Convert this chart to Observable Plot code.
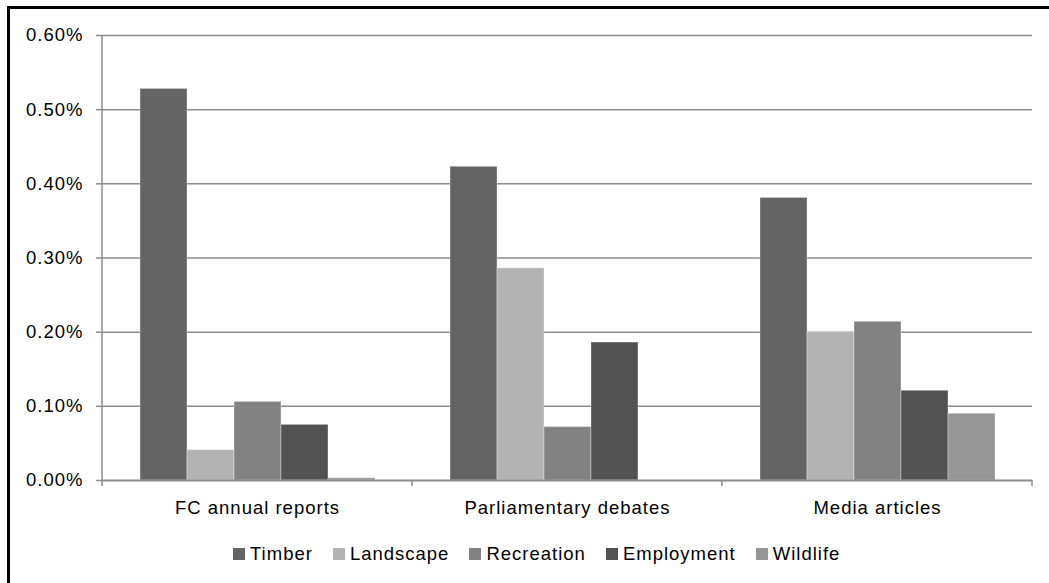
<!DOCTYPE html>
<html>
<head>
<meta charset="utf-8">
<script src="https://cdn.jsdelivr.net/npm/d3@7"></script>
<script src="https://cdn.jsdelivr.net/npm/@observablehq/plot@0.6"></script>
<style>
  html, body { margin: 0; padding: 0; background: #fff; overflow: hidden; }
  body { width: 1049px; height: 583px; position: relative; font-family: "Liberation Sans", Arial, sans-serif; }
  #frame { position: absolute; left: 7px; top: 6px; width: 2000px; height: 2000px; border: 3px solid #000; box-sizing: border-box; pointer-events: none; }
  #chart { position: absolute; left: 0; top: 0; }
  #legend { position: absolute; left: 233px; top: 544px; display: flex; align-items: center; font-size: 18.5px; letter-spacing: 1px; line-height: 19px; color: #000; }
  #legend .item { display: flex; align-items: center; margin-right: 20px; }
  #legend .sw { width: 12px; height: 12px; margin-right: 5px; }
</style>
</head>
<body>
<div id="chart"></div>
<div id="legend"></div>
<div id="frame"></div>
<script>
// Share of text (percent) mentioning each forest value, by source
const categories = ["FC annual reports", "Parliamentary debates", "Media articles"];
const series = ["Timber", "Landscape", "Recreation", "Employment", "Wildlife"];
const timber = [0.528, 0.423, 0.381];
const landscape = [0.041, 0.286, 0.200];
const recreation = [0.106, 0.072, 0.214];
const employment = [0.075, 0.186, 0.121];
const wildlife = [0.003, 0.000, 0.090];
const colors = ["#646464", "#b3b3b3", "#828282", "#525252", "#969696"];
const yTicks = [0, 0.1, 0.2, 0.3, 0.4, 0.5, 0.6];

const seriesValues = [timber, landscape, recreation, employment, wildlife];
const data = categories.flatMap((category, i) =>
  series.map((name, j) => ({category, series: name, value: seriesValues[j][i]}))
);

const gridColor = "#8c8c8c";

const chart = Plot.plot({
  width: 1049,
  height: 530,
  marginLeft: 101,
  marginRight: 17,
  marginTop: 35,
  marginBottom: 50,
  style: {fontFamily: "'Liberation Sans', Arial, sans-serif", fontSize: "18.5px", letterSpacing: "1px", color: "#000", background: "transparent"},
  fx: {domain: categories, padding: 0, label: null},
  x: {domain: series, paddingInner: 0, paddingOuter: 0.75, axis: null},
  y: {domain: [0, 0.6], label: null},
  color: {domain: series, range: colors},
  marks: [
    Plot.gridY(yTicks.slice(1), {stroke: gridColor, strokeOpacity: 1, strokeWidth: 1.5}),
    Plot.barY(data, {fx: "category", x: "series", y: "value", fill: "series", stroke: "#ffffff", strokeOpacity: 0.35, strokeWidth: 1}),
    Plot.ruleY([0], {stroke: gridColor, strokeWidth: 2}),
    Plot.axisY(yTicks, {tickSize: 6, tickPadding: 13, stroke: gridColor, strokeWidth: 1.5, tickFormat: d => d.toFixed(2) + "%", label: null, fill: "#000"}),
    Plot.axisFx({anchor: "bottom", tickSize: 0, tickPadding: 20, label: null, fill: "#000"})
  ]
});
document.getElementById("chart").appendChild(chart);

// Vertical axis line and category-boundary tick marks
const y = chart.scale("y");
const fx = chart.scale("fx");
const y0 = y.apply(0);
const yTop = y.apply(0.6);
const edges = categories.map(c => fx.apply(c)).concat([fx.apply(categories[categories.length - 1]) + fx.bandwidth]);
const g = d3.select(chart).append("g").attr("stroke", gridColor).attr("stroke-width", 1.5);
g.append("line").attr("x1", edges[0]).attr("x2", edges[0]).attr("y1", yTop).attr("y2", y0 + 6);
edges.slice(1).forEach(ex => {
  g.append("line").attr("x1", ex).attr("x2", ex).attr("y1", y0).attr("y2", y0 + 6);
});

// Legend
const legend = d3.select("#legend");
series.forEach((name, i) => {
  const item = legend.append("div").attr("class", "item");
  item.append("div").attr("class", "sw").style("background", colors[i]);
  item.append("span").text(name);
});
</script>
</body>
</html>
